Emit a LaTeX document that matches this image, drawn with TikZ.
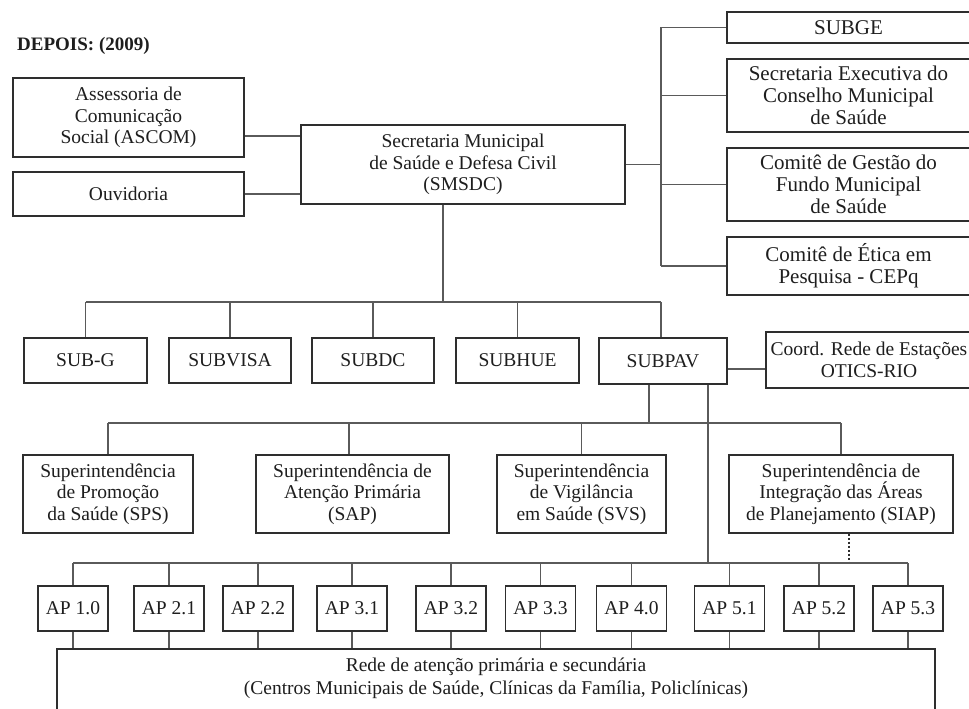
\documentclass[tikz,border=0pt]{standalone}
\usepackage{fontspec}
\setmainfont{Liberation Serif}
\definecolor{boxc}{HTML}{2E2E2E}
\definecolor{linec}{HTML}{5A5A5A}
\definecolor{txtc}{HTML}{1E1E1E}
\begin{document}
\begin{tikzpicture}[x=1pt,y=-1pt,
  box/.style={draw=boxc, line width=1.2pt, fill=white, align=center, inner sep=0pt,
    text=txtc, font=\fontsize{19.5}{21.5}\selectfont},
  bigbox/.style={box, font=\fontsize{21}{22}\selectfont},
  conn/.style={draw=linec, line width=1.3pt},
  dotconn/.style={draw=boxc, line width=1.1pt, dash pattern=on 2pt off 2pt}]
\useasboundingbox (0,0) rectangle (969,709);

\node[anchor=base west, font=\bfseries\fontsize{19}{22}\selectfont, text=txtc, inner sep=0pt] (title) at (17,51) {DEPOIS: (2009)};

% top left
\node[box, minimum width=231, minimum height=79] (ascom) at (128.5,117.5) {Assessoria de\\Comunicação\\Social (ASCOM)};
\node[box, minimum width=231, minimum height=44] (ouv) at (128.5,194) {Ouvidoria};
\node[box, minimum width=324, minimum height=79] (smsdc) at (463,164.5) {Secretaria Municipal\\de Saúde e Defesa Civil\\(SMSDC)};

% top right
\node[bigbox, minimum width=243, minimum height=31] (subge) at (848.5,27.5) {SUBGE};
\node[bigbox, minimum width=243, minimum height=73] (secexec) at (848.5,95.5) {Secretaria Executiva do\\Conselho Municipal\\de Saúde};
\node[bigbox, minimum width=243, minimum height=73] (cgest) at (848.5,184.5) {Comitê de Gestão do\\Fundo Municipal\\de Saúde};
\node[bigbox, minimum width=243, minimum height=58] (cetica) at (848.5,266) {Comitê de Ética em\\Pesquisa - CEPq};

% second row
\node[box, minimum width=123, minimum height=45] (subg) at (85.5,360.5) {SUB-G};
\node[box, minimum width=122, minimum height=45] (subvisa) at (230,360.5) {SUBVISA};
\node[box, minimum width=122, minimum height=45] (subdc) at (373,360.5) {SUBDC};
\node[box, minimum width=123, minimum height=45] (subhue) at (517.5,360.5) {SUBHUE};
\node[box, minimum width=128, minimum height=46] (subpav) at (663,361) {SUBPAV};
\node[box, minimum width=206, minimum height=56] (coord) at (869,360) {Coord. Rede de Estações\\OTICS-RIO};

% third row
\node[box, minimum width=170, minimum height=78] (sps) at (108,494) {Superintendência\\de Promoção\\da Saúde (SPS)};
\node[box, minimum width=193, minimum height=78] (sap) at (352.5,494) {Superintendência de\\Atenção Primária\\(SAP)};
\node[box, minimum width=169, minimum height=78] (svs) at (581.5,494) {Superintendência\\de Vigilância\\em Saúde (SVS)};
\node[box, minimum width=224, minimum height=78] (siap) at (841,494) {Superintendência de\\Integração das Áreas\\de Planejamento (SIAP)};

% AP row
\foreach \nm/\lab/\cx in {ap10/AP 1.0/73, ap21/AP 2.1/169, ap22/AP 2.2/258, ap31/AP 3.1/352,
  ap32/AP 3.2/451, ap33/AP 3.3/540.5, ap40/AP 4.0/631.5, ap51/AP 5.1/729.5,
  ap52/AP 5.2/819, ap53/AP 5.3/908}
  \node[box, minimum width=70, minimum height=45] (\nm) at (\cx,608.5) {\lab};

\node[box, minimum width=878, minimum height=70] (rede) at (496,684) {};
\node[anchor=north, align=center, inner sep=0pt, text=txtc, font=\fontsize{19.5}{23}\selectfont] (redetxt) at ([yshift=-9pt]rede.north) {Rede de atenção primária e secundária\\(Centros Municipais de Saúde, Clínicas da Família, Policlínicas)};

% bus coordinates
\coordinate (rv) at (661,0);
\coordinate (b2) at (0,302);
\coordinate (b3) at (0,423);
\coordinate (b4) at (0,563);

% left connectors
\draw[conn] ([yshift=-18.5pt]ascom.east) -- ([yshift=-18.5pt]ascom.east -| smsdc.west);
\draw[conn] (ouv.east) -- (ouv.east -| smsdc.west);

% right connectors
\draw[conn] (smsdc.east) -- (smsdc.east -| rv);
\draw[conn] (rv |- subge.west) -- (rv |- cetica.west);
\foreach \n in {subge,secexec,cgest,cetica}
  \draw[conn] (rv |- \n.west) -- (\n.west);

% SMSDC down to row 2
\draw[conn] ([xshift=-20pt]smsdc.south) -- ([xshift=-20pt]smsdc.south |- b2);
\draw[conn] (subg.north |- b2) -- ([xshift=-2pt]subpav.north |- b2);
\foreach \n in {subg,subvisa,subdc,subhue}
  \draw[conn] (\n.north |- b2) -- (\n.north);
\draw[conn] ([xshift=-2pt]subpav.north |- b2) -- ([xshift=-2pt]subpav.north);

% SUBPAV to coord
\draw[conn] ([yshift=-8pt]subpav.east) -- ([yshift=-8pt]subpav.east -| coord.west);

% SUBPAV down to row 3
\draw[conn] ([xshift=-14pt]subpav.south) -- ([xshift=-14pt]subpav.south |- b3);
\draw[conn] (sps.north |- b3) -- (siap.north |- b3);
\draw[conn] (sps.north |- b3) -- (sps.north);
\draw[conn] ([xshift=-3.5pt]sap.north |- b3) -- ([xshift=-3.5pt]sap.north);
\draw[conn] (svs.north |- b3) -- (svs.north);
\draw[conn] (siap.north |- b3) -- (siap.north);

% SUBPAV down to AP row
\draw[conn] ([xshift=45pt]subpav.south) -- ([xshift=45pt]subpav.south |- b4);
\draw[dotconn] ([xshift=8pt]siap.south) -- ([xshift=8pt]siap.south |- b4);
\draw[conn] (ap10.north |- b4) -- (ap53.north |- b4);
\foreach \n in {ap10,ap21,ap22,ap31,ap32,ap33,ap40,ap51,ap52,ap53} {
  \draw[conn] (\n.north |- b4) -- (\n.north);
  \draw[conn] (\n.south) -- (\n.south |- rede.north);
}
\end{tikzpicture}
\end{document}
